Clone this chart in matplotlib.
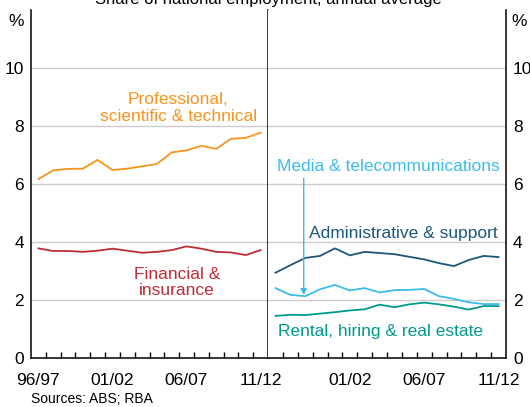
import matplotlib.pyplot as plt
import numpy as np

plt.rcParams['font.family'] = ['Liberation Sans', 'DejaVu Sans']

years = ['96/97', '97/98', '98/99', '99/00', '00/01', '01/02', '02/03', '03/04',
         '04/05', '05/06', '06/07', '07/08', '08/09', '09/10', '10/11', '11/12']

# left panel
professional = [6.17, 6.47, 6.52, 6.53, 6.83, 6.48, 6.53, 6.61,
                6.69, 7.09, 7.16, 7.32, 7.21, 7.56, 7.59, 7.77]
financial = [3.78, 3.69, 3.69, 3.66, 3.70, 3.77, 3.70, 3.63,
             3.66, 3.72, 3.85, 3.77, 3.66, 3.64, 3.55, 3.72]

# right panel
administrative = [2.94, 3.20, 3.45, 3.52, 3.78, 3.54, 3.66, 3.62,
                  3.58, 3.49, 3.40, 3.27, 3.17, 3.38, 3.52, 3.48]
media = [2.41, 2.18, 2.13, 2.37, 2.52, 2.33, 2.41, 2.26,
         2.34, 2.35, 2.38, 2.13, 2.04, 1.92, 1.86, 1.86]
rental = [1.45, 1.49, 1.48, 1.53, 1.58, 1.64, 1.68, 1.84,
          1.75, 1.85, 1.91, 1.85, 1.77, 1.67, 1.79, 1.79]

c_orange = '#F7941D'
c_red = '#BE2C36'
c_navy = '#1B5878'
c_light = '#3DBBEA'
c_teal = '#009B8D'

x = np.arange(len(years))

fig = plt.figure(figsize=(5.30, 4.07), dpi=100)
W, H = 530.0, 407.0
bot = 1 - 358 / H
hgt = (358 - 10) / H
ax1 = fig.add_axes([31 / W, bot, (268 - 31) / W, hgt])
ax2 = fig.add_axes([268 / W, bot, (506 - 268) / W, hgt])

for ax in (ax1, ax2):
    ax.set_xlim(-0.5, len(years) - 0.5)
    ax.set_ylim(0, 12)
    ax.set_yticks([0, 2, 4, 6, 8, 10])
    for v in [2, 4, 6, 8, 10]:
        ax.axhline(v, color='#CCCCCC', lw=1.0, zorder=0)
    ax.spines['top'].set_visible(False)
    for s in ['left', 'right', 'bottom']:
        ax.spines[s].set_linewidth(1.1)
    ax.set_xticks(x[1:] - 0.5, minor=True)
    ax.tick_params(axis='x', which='minor', direction='in', length=4.5, width=1.0)
    ax.tick_params(axis='x', which='major', length=0, labelsize=12.5, pad=11)
    ax.tick_params(axis='y', length=0, labelsize=12.5, pad=5)

ax2.spines['left'].set_visible(False)

ax1.set_xticks([0, 5, 10, 15])
ax1.set_xticklabels([years[i] for i in [0, 5, 10, 15]])
ax2.set_xticks([5, 10, 15])
ax2.set_xticklabels([years[i] for i in [5, 10, 15]])
ax2.yaxis.tick_right()
ax2.tick_params(axis='y', labelright=True, labelleft=False)

ax1.plot(x, professional, color=c_orange, lw=1.3)
ax1.plot(x, financial, color=c_red, lw=1.3)
ax2.plot(x, administrative, color=c_navy, lw=1.3)
ax2.plot(x, media, color=c_light, lw=1.3)
ax2.plot(x, rental, color=c_teal, lw=1.3)

lab = dict(fontsize=12.5, ha='center', va='center', linespacing=1.1)
ax1.text(9.43, 8.62, 'Professional,\nscientific & technical', color=c_orange, **lab)
ax1.text(9.36, 2.59, 'Financial &\ninsurance', color=c_red, **lab)
ax2.text(7.6, 6.59, 'Media & telecommunications', color=c_light, **lab)
ax2.text(8.6, 4.31, 'Administrative & support', color=c_navy, **lab)
ax2.text(7.07, 0.93, 'Rental, hiring & real estate', color=c_teal, **lab)
ax2.annotate('', xy=(1.9, 2.17), xytext=(1.9, 6.2),
             arrowprops=dict(arrowstyle='-|>', color=c_light, lw=1.0,
                             mutation_scale=9, shrinkA=0, shrinkB=0))

fig.text(16 / W, 1 - 22 / H, '%', fontsize=12.5, ha='center', va='center')
fig.text(519 / W, 1 - 22 / H, '%', fontsize=12.5, ha='center', va='center')
fig.text(268 / W, 1 - 4 / H, 'Share of national employment, annual average',
         fontsize=12, ha='center', va='baseline')
fig.text(31 / W, 1 - 403 / H, 'Sources: ABS; RBA', fontsize=10, ha='left', va='baseline')

fig.savefig('out.png', dpi=100)
